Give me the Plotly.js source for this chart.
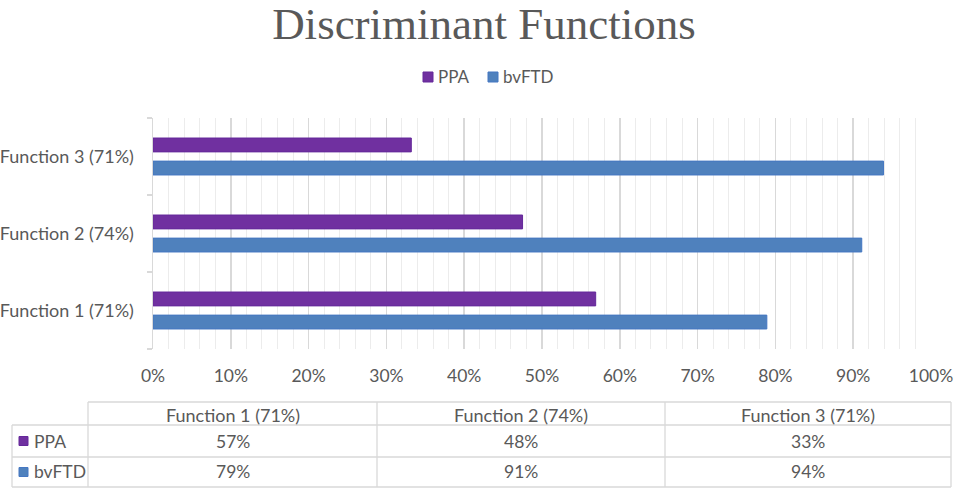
<!DOCTYPE html>
<html>
<head>
<meta charset="utf-8">
<script src="https://cdn.plot.ly/plotly-3.0.1.min.js"></script>
<style>html,body{margin:0;padding:0;background:#fff;}#chart{width:957px;height:492px;}</style>
</head>
<body>
<div id="chart"></div>
<script>
// ---- data ----
const categories = ['Function 1 (71%)', 'Function 2 (74%)', 'Function 3 (71%)'];
const seriesNames = ['PPA', 'bvFTD'];
const ppaValues = [56.9, 47.5, 33.2];
const bvftdValues = [78.9, 91.1, 93.9];
const xTickValues = [0, 10, 20, 30, 40, 50, 60, 70, 80, 90, 100];
const xTickLabels = xTickValues.map(v => v + '%');

// ---- styles ----
const ppaColor = '#7030A0', ppaLine = '#64289a';
const bvColor = '#4F81BD', bvLine = '#4577c2';
const textColor = '#595959';
const FONT = 'Lato, "Open Sans", sans-serif';
const W = 957, H = 492;
const M = {l: 153, r: 26, t: 118, b: 143};
const PW = W - M.l - M.r, PH = H - M.t - M.b;
const px = x => (x - M.l) / PW;
const py = y => (H - M.b - y) / PH;

const traces = [
  {type: 'bar', orientation: 'h', name: seriesNames[1], y: categories, x: bvftdValues,
   marker: {color: bvColor, line: {color: bvLine, width: 1}}, hoverinfo: 'skip'},
  {type: 'bar', orientation: 'h', name: seriesNames[0], y: categories, x: ppaValues,
   marker: {color: ppaColor, line: {color: ppaLine, width: 1}}, hoverinfo: 'skip'}
];

const shapes = [];
const annotations = [];
function txt(t, x, y, anchor, size) {
  annotations.push({text: t, xref: 'paper', yref: 'paper', x: px(x), y: py(y), xanchor: anchor, yanchor: 'middle',
    showarrow: false, font: {family: FONT, size: size, color: textColor}});
}
function key(x, yc, color, lineC, s) {
  shapes.push({type: 'rect', xref: 'paper', yref: 'paper', x0: px(x), x1: px(x + s), y0: py(yc - s / 2), y1: py(yc + s / 2),
    fillcolor: color, line: {color: lineC, width: 1}});
}

// ---- legend (top centre) ----
const legendItems = [
  {name: seriesNames[0], color: ppaColor, lineC: ppaLine, x: 423},
  {name: seriesNames[1], color: bvColor, lineC: bvLine, x: 488}
];
legendItems.forEach(it => {
  key(it.x, 77, it.color, it.lineC, 10);
  txt(it.name, it.x + 13, 77, 'left', 17);
});

// ---- data table below the chart ----
const colEdges = [88, 377, 665, 951];
const leftEdge = 12;
const rowEdges = [402, 425, 457, 487];
const gridCol = '#d9d9d9';
function line(x0, y0, x1, y1) {
  shapes.push({type: 'line', xref: 'paper', yref: 'paper', x0: px(x0), y0: py(y0), x1: px(x1), y1: py(y1),
    line: {color: gridCol, width: 1.3}});
}
line(colEdges[0], rowEdges[0], colEdges[3], rowEdges[0]);
for (let i = 1; i < rowEdges.length; i++) line(leftEdge, rowEdges[i], colEdges[3], rowEdges[i]);
line(leftEdge, rowEdges[1], leftEdge, rowEdges[3]);
colEdges.forEach(c => line(c, rowEdges[0], c, rowEdges[3]));

categories.forEach((c, i) => txt(c, (colEdges[i] + colEdges[i + 1]) / 2, (rowEdges[0] + rowEdges[1]) / 2 + 1, 'center', 18));
const rows = [
  {name: seriesNames[0], vals: ppaValues, color: ppaColor, lineC: ppaLine},
  {name: seriesNames[1], vals: bvftdValues, color: bvColor, lineC: bvLine}
];
rows.forEach((r, k) => {
  const yc = (rowEdges[k + 1] + rowEdges[k + 2]) / 2;
  key(19, yc, r.color, r.lineC, 9);
  txt(r.name, 32, yc, 'left', 17.5);
  r.vals.forEach((v, i) => txt(Math.round(v) + '%', (colEdges[i] + colEdges[i + 1]) / 2, yc, 'center', 17.5));
});

const layout = {
  width: W, height: H,
  margin: M,
  paper_bgcolor: '#fff', plot_bgcolor: '#fff',
  showlegend: false,
  title: {text: 'Discriminant Functions', font: {family: '"Liberation Serif", serif', size: 45, color: textColor},
    xref: 'paper', x: px(484), xanchor: 'center', yref: 'container', y: 1 - 23 / H, yanchor: 'middle'},
  barmode: 'group', bargap: 0.4, bargroupgap: 0.4,
  xaxis: {range: [0, 100], tickmode: 'array', tickvals: xTickValues, ticktext: xTickLabels,
    showgrid: true, gridcolor: '#d9d9d9', gridwidth: 1.5,
    minor: {dtick: 2, showgrid: true, gridcolor: '#ececec', gridwidth: 1},
    zeroline: false, showline: false, ticks: '', ticklabelstandoff: 14,
    tickfont: {family: FONT, size: 17.5, color: textColor}, fixedrange: true},
  yaxis: {type: 'category', categoryarray: categories, showgrid: false, zeroline: false,
    showline: true, linecolor: '#d9d9d9', linewidth: 1.5,
    ticks: 'outside', tickson: 'boundaries', ticklen: 5, tickcolor: '#d9d9d9', tickwidth: 1.5,
    ticklabelstandoff: 14,
    tickfont: {family: FONT, size: 18, color: textColor}, fixedrange: true},
  shapes: shapes,
  annotations: annotations
};

Plotly.newPlot('chart', traces, layout, {staticPlot: true, displayModeBar: false});
</script>
</body>
</html>
